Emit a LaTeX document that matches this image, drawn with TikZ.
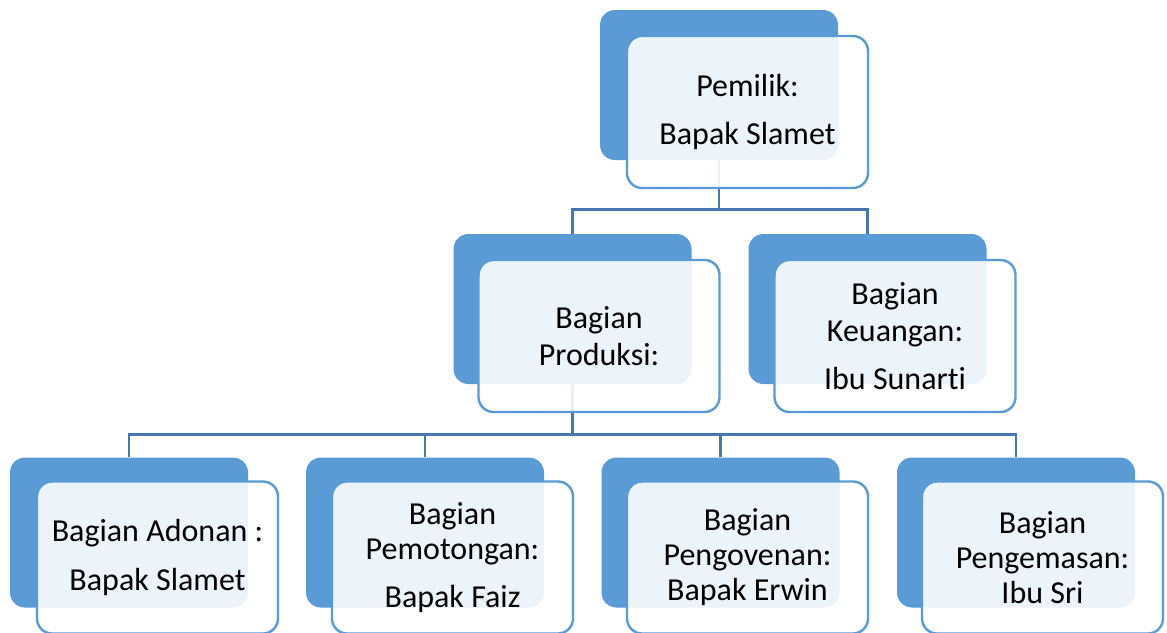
\documentclass[tikz,border=0pt]{standalone}
\usepackage{fontspec}
\setmainfont{Carlito}[Ligatures=NoCommon]
\usetikzlibrary{calc}

\definecolor{biru}{HTML}{5B9BD5}
\definecolor{birugaris}{HTML}{4677B0}

\tikzset{
  belakang/.style={fill=biru, rounded corners=7.5pt, minimum width=119pt, minimum height=75pt, inner sep=0pt},
  depan/.style={fill=white, fill opacity=0.89, text opacity=1, draw=biru, line width=1.2pt,
    rounded corners=7.5pt, minimum width=120.5pt, minimum height=76pt, inner sep=0pt,
    align=center, font=\fontsize{16}{17.5}\selectfont},
  garis/.style={draw=birugaris, line width=1.2pt}
}

\begin{document}
\begin{tikzpicture}[x=0.5pt,y=-0.5pt]
    \useasboundingbox (0,0) rectangle (1167,632);
    % kotak belakang
    \node[belakang] (pemilik) at (719,85) {};
    \node[belakang] (produksi) at (572.5,309) {};
    \node[belakang] (keuangan) at (867.5,309) {};
    \foreach \nama/\x in {adonan/129, pemotongan/425, pengovenan/720.5, pengemasan/1016}{
      \node[belakang] (\nama) at (\x,532.5) {};
    }
    % garis penghubung
    \coordinate (bus1) at ($(pemilik.south)+(0,49)$);
    \coordinate (bus2) at ($(produksi.south)+(0,50)$);
    \draw[garis] (pemilik.south) -- (bus1);
    \draw[garis] (produksi.north) |- (bus1) -| (keuangan.north);
    \draw[garis] (produksi.south) -- (bus2);
    \draw[garis] (adonan.north) |- (bus2) -| (pengemasan.north);
    \draw[garis] (pemotongan.north) -- (pemotongan.north |- bus2);
    \draw[garis] (pengovenan.north) -- (pengovenan.north |- bus2);
    % kotak depan
    \node[depan] (pemilikteks) at (747.5,112) {Pemilik:\\[6.5pt]Bapak Slamet};
    \node[depan] (produksiteks) at (599,336) {Bagian\\[1pt]Produksi:};
    \node[depan] (keuanganteks) at (895,336) {Bagian\\[1pt]Keuangan:\\[6.5pt]Ibu Sunarti};
    \foreach \nama/\x/\teks in {adonan/157.5/{Bagian Adonan :\\[7pt]Bapak Slamet},
        pemotongan/452.5/{Bagian\\Pemotongan:\\[6.5pt]Bapak Faiz},
        pengovenan/747.5/{Bagian\\Pengovenan:\\Bapak Erwin},
        pengemasan/1042.5/{Bagian\\Pengemasan:\\Ibu Sri}}{
      \node[depan] (\nama teks) at (\x,557.5) {\teks};
    }
\end{tikzpicture}
\end{document}
